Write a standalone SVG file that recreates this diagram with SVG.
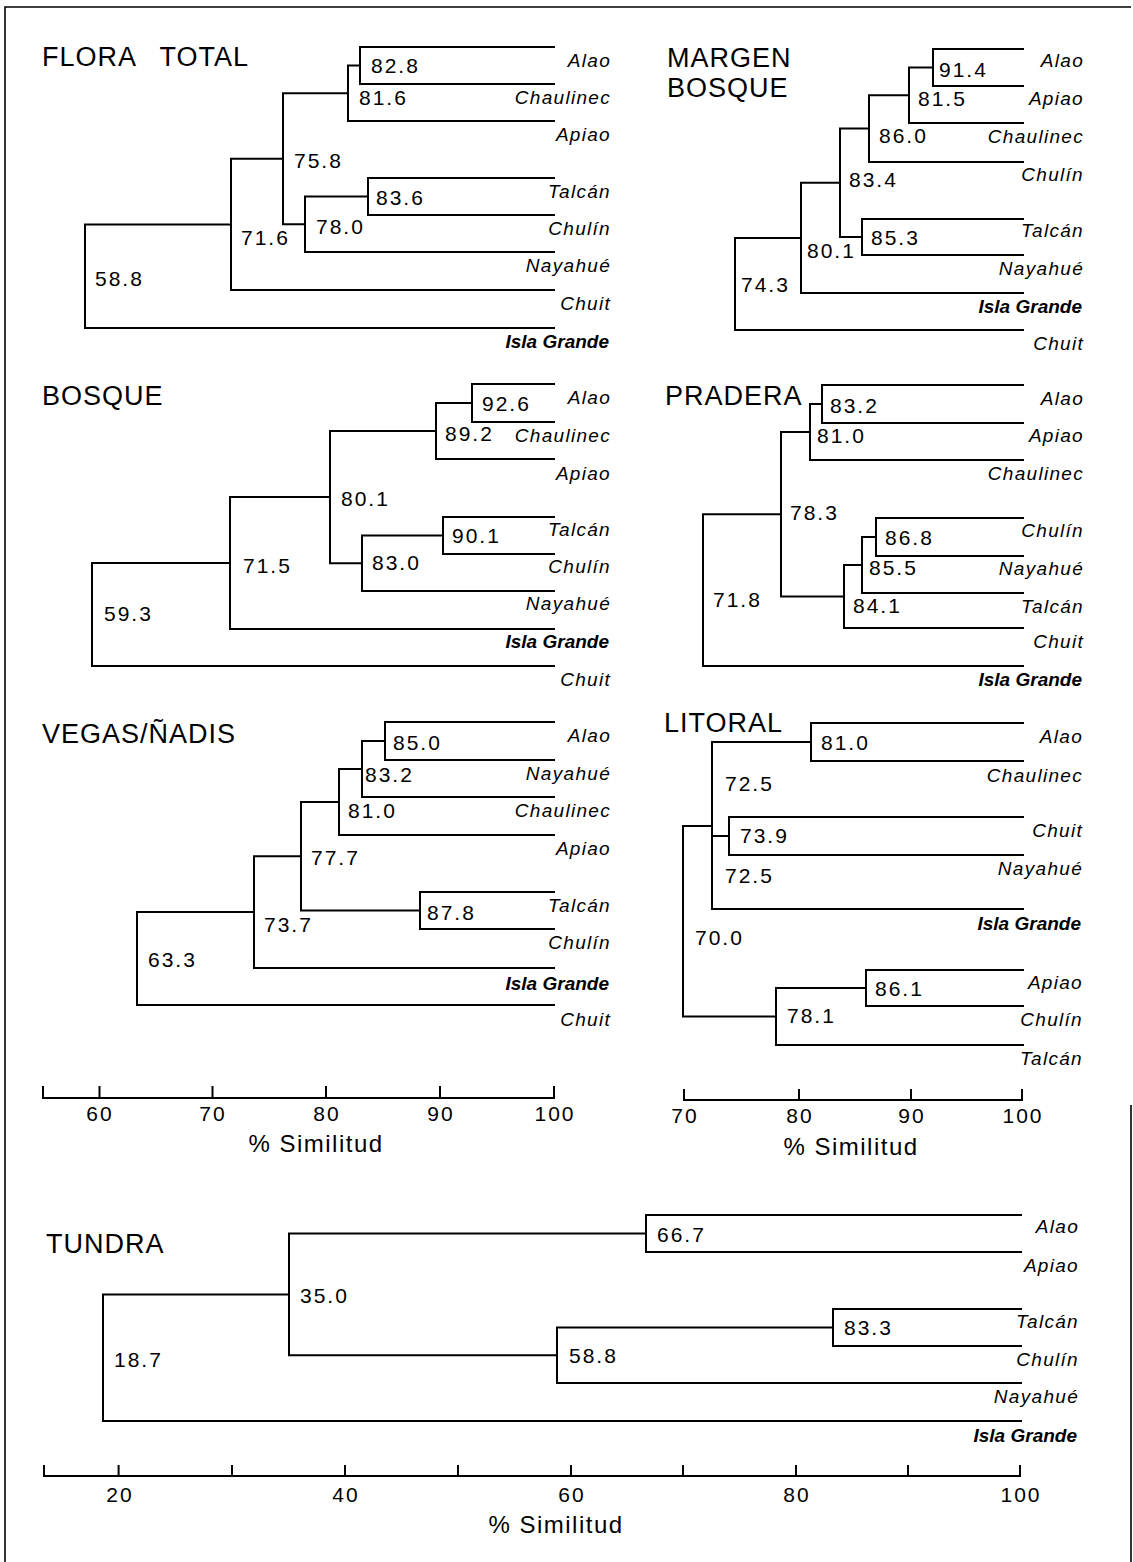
<svg xmlns="http://www.w3.org/2000/svg" width="1133" height="1562" viewBox="0 0 1133 1562">
<style>
.bg{fill:#fff}
.ln{fill:none;stroke:#000;stroke-width:2;stroke-linecap:square}
.fr{fill:none;stroke:#000;stroke-width:1.6}
.tt{font-family:"Liberation Sans",Arial,sans-serif;font-size:27px;letter-spacing:1px;fill:#000}
.nv{font-family:"Liberation Sans",Arial,sans-serif;font-size:21px;letter-spacing:2px;fill:#000}
.lf{font-family:"Liberation Sans",Arial,sans-serif;font-size:19px;font-style:italic;letter-spacing:1.3px;fill:#000;text-anchor:end}
.lb{font-family:"Liberation Sans",Arial,sans-serif;font-size:19px;font-style:italic;font-weight:bold;fill:#000;text-anchor:end}
.ax{font-family:"Liberation Sans",Arial,sans-serif;font-size:21px;letter-spacing:2px;fill:#000;text-anchor:middle}
.at{font-family:"Liberation Sans",Arial,sans-serif;font-size:24px;letter-spacing:1.5px;fill:#000;text-anchor:middle}
</style>
<rect class="bg" x="0" y="0" width="1133" height="1562"/>
<g id="frame">
<path class="fr" d="M5 1562 V7 H1131 M1131 1105 V1562"/>
</g>

<g id="connectors">
<!-- Flora total -->
<path class="ln" d="M554 47 H360 V84 H554"/>
<path class="ln" d="M360 65.5 H348 V121 H554"/>
<path class="ln" d="M554 178 H368 V215 H554"/>
<path class="ln" d="M368 196.5 H305 V252 H554"/>
<path class="ln" d="M348 93.25 H283 V224.25 H305"/>
<path class="ln" d="M283 158.75 H231 V290 H554"/>
<path class="ln" d="M231 224.4 H85 V328 H554"/>
<!-- Margen bosque -->
<path class="ln" d="M1023 49 H933 V86 H1023"/>
<path class="ln" d="M933 67.5 H909 V123 H1023"/>
<path class="ln" d="M909 95.25 H869 V162 H1023"/>
<path class="ln" d="M1023 219 H862 V255 H1023"/>
<path class="ln" d="M869 128.6 H840 V237 H862"/>
<path class="ln" d="M840 182.8 H801 V293 H1023"/>
<path class="ln" d="M801 237.9 H735 V330 H1023"/>
<!-- Bosque -->
<path class="ln" d="M554 384 H472 V422 H554"/>
<path class="ln" d="M472 403 H436 V459 H554"/>
<path class="ln" d="M554 517 H443 V554 H554"/>
<path class="ln" d="M443 535.5 H362 V591 H554"/>
<path class="ln" d="M436 431 H330 V563.25 H362"/>
<path class="ln" d="M330 497.1 H230 V629 H554"/>
<path class="ln" d="M230 563 H92 V666 H554"/>
<!-- Pradera -->
<path class="ln" d="M1023 385 H822 V423 H1023"/>
<path class="ln" d="M822 404 H810 V460 H1023"/>
<path class="ln" d="M1023 518 H876 V556 H1023"/>
<path class="ln" d="M876 537 H862 V593 H1023"/>
<path class="ln" d="M862 565 H844 V628 H1023"/>
<path class="ln" d="M810 432 H781 V596.5 H844"/>
<path class="ln" d="M781 514.25 H703 V666 H1023"/>
<!-- Vegas -->
<path class="ln" d="M554 722 H385 V760 H554"/>
<path class="ln" d="M385 741 H362 V797 H554"/>
<path class="ln" d="M362 769 H339 V835 H554"/>
<path class="ln" d="M554 892 H420 V929 H554"/>
<path class="ln" d="M339 802 H301 V910.5 H420"/>
<path class="ln" d="M301 856.25 H254 V968 H554"/>
<path class="ln" d="M254 912.1 H137 V1005 H554"/>
<!-- Litoral -->
<path class="ln" d="M1023 723 H811 V761 H1023"/>
<path class="ln" d="M1023 817 H729 V855 H1023"/>
<path class="ln" d="M811 742 H712 V909 H1023 M712 836 H729"/>
<path class="ln" d="M1023 970 H866 V1006 H1023"/>
<path class="ln" d="M866 988 H776 V1045 H1023"/>
<path class="ln" d="M712 826 H683 V1016.5 H776"/>
<!-- Tundra -->
<path class="ln" d="M1021 1215 H646 V1252 H1021"/>
<path class="ln" d="M1021 1309 H833 V1346 H1021"/>
<path class="ln" d="M833 1327.5 H557 V1383 H1021"/>
<path class="ln" d="M646 1233.5 H289 V1355.25 H557"/>
<path class="ln" d="M289 1294.4 H103 V1421 H1021"/>
</g>

<g id="axes">
<g id="axis-left">
<path class="ln" d="M43 1087 V1098 H554 V1087 M99.5 1087 V1098 M212.5 1087 V1098 M326 1087 V1098 M440 1087 V1098"/>
<text class="ax" x="100" y="1121">60</text>
<text class="ax" x="213" y="1121">70</text>
<text class="ax" x="327" y="1121">80</text>
<text class="ax" x="441" y="1121">90</text>
<text class="ax" x="555" y="1121">100</text>
<text class="at" x="316" y="1152">% Similitud</text>
</g>
<g id="axis-right">
<path class="ln" d="M684 1090 V1100 H1022 V1090 M799 1090 V1100 M911 1090 V1100"/>
<text class="ax" x="685" y="1123">70</text>
<text class="ax" x="800" y="1123">80</text>
<text class="ax" x="912" y="1123">90</text>
<text class="ax" x="1023" y="1123">100</text>
<text class="at" x="851" y="1155">% Similitud</text>
</g>
<g id="axis-tundra">
<path class="ln" d="M44 1466 V1476 H1020 V1466 M118.6 1466 V1476 M232 1466 V1476 M345 1466 V1476 M458 1466 V1476 M571 1466 V1476 M683 1466 V1476 M796 1466 V1476 M908 1466 V1476"/>
<text class="ax" x="120" y="1502">20</text>
<text class="ax" x="346" y="1502">40</text>
<text class="ax" x="572" y="1502">60</text>
<text class="ax" x="797" y="1502">80</text>
<text class="ax" x="1021" y="1502">100</text>
<text class="at" x="556" y="1533">% Similitud</text>
</g>
</g>

<!-- FLORA TOTAL -->
<g id="flora-total">
<text class="tt" x="42" y="66" word-spacing="16">FLORA TOTAL</text>
<g id="ft-n828"><text class="nv" x="371" y="73">82.8</text></g>
<g id="ft-n816"><text class="nv" x="359" y="105">81.6</text></g>
<g id="ft-n758"><text class="nv" x="294" y="168">75.8</text></g>
<g id="ft-n836"><text class="nv" x="376" y="205">83.6</text></g>
<g id="ft-n780"><text class="nv" x="316" y="234">78.0</text></g>
<g id="ft-n716"><text class="nv" x="241" y="245">71.6</text></g>
<g id="ft-n588"><text class="nv" x="95" y="286">58.8</text></g>
<g id="ft-alao"><text class="lf" x="611" y="67">Alao</text></g>
<g id="ft-chaulinec"><text class="lf" x="611" y="104">Chaulinec</text></g>
<g id="ft-apiao"><text class="lf" x="611" y="141">Apiao</text></g>
<g id="ft-talcan"><text class="lf" x="611" y="198">Talcán</text></g>
<g id="ft-chulin"><text class="lf" x="611" y="235">Chulín</text></g>
<g id="ft-nayahue"><text class="lf" x="611" y="272">Nayahué</text></g>
<g id="ft-chuit"><text class="lf" x="611" y="310">Chuit</text></g>
<g id="ft-isla"><text class="lb" x="609" y="348">Isla Grande</text></g>
</g>

<!-- MARGEN BOSQUE -->
<g id="margen-bosque">
<text class="tt" x="667" y="67">MARGEN</text>
<text class="tt" x="667" y="97">BOSQUE</text>
<g id="mb-n914"><text class="nv" x="939" y="77">91.4</text></g>
<g id="mb-n815"><text class="nv" x="918" y="106">81.5</text></g>
<g id="mb-n860"><text class="nv" x="879" y="143">86.0</text></g>
<g id="mb-n834"><text class="nv" x="849" y="187">83.4</text></g>
<g id="mb-n853"><text class="nv" x="871" y="245">85.3</text></g>
<g id="mb-n801"><text class="nv" x="807" y="258">80.1</text></g>
<g id="mb-n743"><text class="nv" x="741" y="292">74.3</text></g>
<g id="mb-alao"><text class="lf" x="1084" y="67">Alao</text></g>
<g id="mb-apiao"><text class="lf" x="1084" y="105">Apiao</text></g>
<g id="mb-chaulinec"><text class="lf" x="1084" y="143">Chaulinec</text></g>
<g id="mb-chulin"><text class="lf" x="1084" y="181">Chulín</text></g>
<g id="mb-talcan"><text class="lf" x="1084" y="237">Talcán</text></g>
<g id="mb-nayahue"><text class="lf" x="1084" y="275">Nayahué</text></g>
<g id="mb-isla"><text class="lb" x="1082" y="313">Isla Grande</text></g>
<g id="mb-chuit"><text class="lf" x="1084" y="350">Chuit</text></g>
</g>

<!-- BOSQUE -->
<g id="bosque">
<text class="tt" x="42" y="405">BOSQUE</text>
<g id="bo-n926"><text class="nv" x="482" y="411">92.6</text></g>
<g id="bo-n892"><text class="nv" x="445" y="441">89.2</text></g>
<g id="bo-n801"><text class="nv" x="341" y="506">80.1</text></g>
<g id="bo-n901"><text class="nv" x="452" y="543">90.1</text></g>
<g id="bo-n830"><text class="nv" x="372" y="570">83.0</text></g>
<g id="bo-n715"><text class="nv" x="243" y="573">71.5</text></g>
<g id="bo-n593"><text class="nv" x="104" y="621">59.3</text></g>
<g id="bo-alao"><text class="lf" x="611" y="404">Alao</text></g>
<g id="bo-chaulinec"><text class="lf" x="611" y="442">Chaulinec</text></g>
<g id="bo-apiao"><text class="lf" x="611" y="480">Apiao</text></g>
<g id="bo-talcan"><text class="lf" x="611" y="536">Talcán</text></g>
<g id="bo-chulin"><text class="lf" x="611" y="573">Chulín</text></g>
<g id="bo-nayahue"><text class="lf" x="611" y="610">Nayahué</text></g>
<g id="bo-isla"><text class="lb" x="609" y="648">Isla Grande</text></g>
<g id="bo-chuit"><text class="lf" x="611" y="686">Chuit</text></g>
</g>

<!-- PRADERA -->
<g id="pradera">
<text class="tt" x="665" y="405">PRADERA</text>
<g id="pr-n832"><text class="nv" x="830" y="413">83.2</text></g>
<g id="pr-n810"><text class="nv" x="817" y="443">81.0</text></g>
<g id="pr-n783"><text class="nv" x="790" y="520">78.3</text></g>
<g id="pr-n868"><text class="nv" x="885" y="545">86.8</text></g>
<g id="pr-n855"><text class="nv" x="869" y="575">85.5</text></g>
<g id="pr-n841"><text class="nv" x="853" y="613">84.1</text></g>
<g id="pr-n718"><text class="nv" x="713" y="607">71.8</text></g>
<g id="pr-alao"><text class="lf" x="1084" y="405">Alao</text></g>
<g id="pr-apiao"><text class="lf" x="1084" y="442">Apiao</text></g>
<g id="pr-chaulinec"><text class="lf" x="1084" y="480">Chaulinec</text></g>
<g id="pr-chulin"><text class="lf" x="1084" y="537">Chulín</text></g>
<g id="pr-nayahue"><text class="lf" x="1084" y="575">Nayahué</text></g>
<g id="pr-talcan"><text class="lf" x="1084" y="613">Talcán</text></g>
<g id="pr-chuit"><text class="lf" x="1084" y="648">Chuit</text></g>
<g id="pr-isla"><text class="lb" x="1082" y="686">Isla Grande</text></g>
</g>

<!-- VEGAS / ÑADIS -->
<g id="vegas-nadis">
<text class="tt" x="42" y="743" letter-spacing="2">VEGAS/ÑADIS</text>
<g id="ve-n850"><text class="nv" x="393" y="750">85.0</text></g>
<g id="ve-n832"><text class="nv" x="365" y="782">83.2</text></g>
<g id="ve-n810"><text class="nv" x="348" y="818">81.0</text></g>
<g id="ve-n777"><text class="nv" x="311" y="865">77.7</text></g>
<g id="ve-n878"><text class="nv" x="427" y="920">87.8</text></g>
<g id="ve-n737"><text class="nv" x="264" y="932">73.7</text></g>
<g id="ve-n633"><text class="nv" x="148" y="967">63.3</text></g>
<g id="ve-alao"><text class="lf" x="611" y="742">Alao</text></g>
<g id="ve-nayahue"><text class="lf" x="611" y="780">Nayahué</text></g>
<g id="ve-chaulinec"><text class="lf" x="611" y="817">Chaulinec</text></g>
<g id="ve-apiao"><text class="lf" x="611" y="855">Apiao</text></g>
<g id="ve-talcan"><text class="lf" x="611" y="912">Talcán</text></g>
<g id="ve-chulin"><text class="lf" x="611" y="949">Chulín</text></g>
<g id="ve-isla"><text class="lb" x="609" y="990">Isla Grande</text></g>
<g id="ve-chuit"><text class="lf" x="611" y="1026">Chuit</text></g>
</g>

<!-- LITORAL -->
<g id="litoral">
<text class="tt" x="664" y="732">LITORAL</text>
<g id="li-n810"><text class="nv" x="821" y="750">81.0</text></g>
<g id="li-n725a"><text class="nv" x="725" y="791">72.5</text></g>
<g id="li-n739"><text class="nv" x="740" y="843">73.9</text></g>
<g id="li-n725b"><text class="nv" x="725" y="883">72.5</text></g>
<g id="li-n700"><text class="nv" x="695" y="945">70.0</text></g>
<g id="li-n861"><text class="nv" x="875" y="996">86.1</text></g>
<g id="li-n781"><text class="nv" x="787" y="1023">78.1</text></g>
<g id="li-alao"><text class="lf" x="1083" y="743">Alao</text></g>
<g id="li-chaulinec"><text class="lf" x="1083" y="782">Chaulinec</text></g>
<g id="li-chuit"><text class="lf" x="1083" y="837">Chuit</text></g>
<g id="li-nayahue"><text class="lf" x="1083" y="875">Nayahué</text></g>
<g id="li-isla"><text class="lb" x="1081" y="930">Isla Grande</text></g>
<g id="li-apiao"><text class="lf" x="1083" y="989">Apiao</text></g>
<g id="li-chulin"><text class="lf" x="1083" y="1026">Chulín</text></g>
<g id="li-talcan"><text class="lf" x="1083" y="1065">Talcán</text></g>
</g>

<!-- TUNDRA -->
<g id="tundra">
<text class="tt" x="46" y="1253">TUNDRA</text>
<g id="tu-n667"><text class="nv" x="657" y="1242">66.7</text></g>
<g id="tu-n833"><text class="nv" x="844" y="1335">83.3</text></g>
<g id="tu-n588"><text class="nv" x="569" y="1363">58.8</text></g>
<g id="tu-n350"><text class="nv" x="300" y="1303">35.0</text></g>
<g id="tu-n187"><text class="nv" x="114" y="1367">18.7</text></g>
<g id="tu-alao"><text class="lf" x="1079" y="1233">Alao</text></g>
<g id="tu-apiao"><text class="lf" x="1079" y="1272">Apiao</text></g>
<g id="tu-talcan"><text class="lf" x="1079" y="1328">Talcán</text></g>
<g id="tu-chulin"><text class="lf" x="1079" y="1366">Chulín</text></g>
<g id="tu-nayahue"><text class="lf" x="1079" y="1403">Nayahué</text></g>
<g id="tu-isla"><text class="lb" x="1077" y="1442">Isla Grande</text></g>
</g>
</svg>
